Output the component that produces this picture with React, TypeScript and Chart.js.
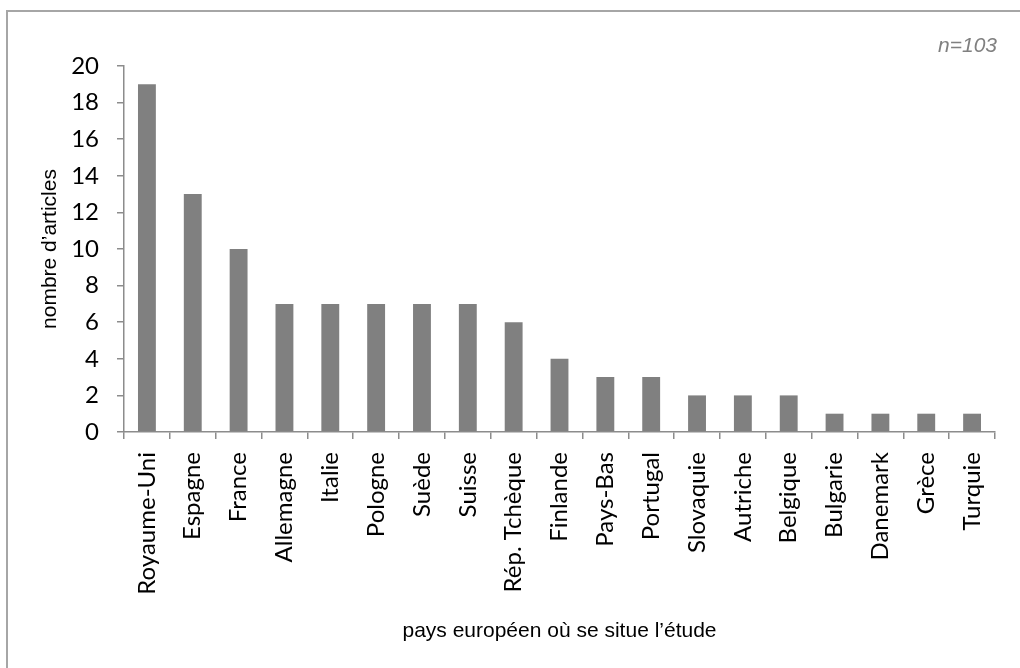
import React, { useEffect, useRef } from "react";
import { Chart, registerables } from "chart.js";

Chart.register(...registerables);

const categories = [
  "Royaume-Uni", "Espagne", "France", "Allemagne", "Italie", "Pologne", "Suède", "Suisse",
  "Rép. Tchèque", "Finlande", "Pays-Bas", "Portugal", "Slovaquie", "Autriche", "Belgique",
  "Bulgarie", "Danemark", "Grèce", "Turquie",
];

const articleCounts = [19, 13, 10, 7, 7, 7, 7, 7, 6, 4, 3, 3, 2, 2, 2, 1, 1, 1, 1];

const yTitle = "nombre d’articles";
const xTitle = "pays européen où se situe l’étude";
const noteText = "n=103";

export default function App() {
  const canvasRef = useRef<HTMLCanvasElement | null>(null);

  useEffect(() => {
    const canvas = canvasRef.current;
    if (!canvas) return;
    const notePlugin = {
      id: "note",
      afterDraw(chart: any) {
        const ctx = chart.ctx;
        ctx.save();
        ctx.font = "italic 21px 'Liberation Sans', Arial, sans-serif";
        ctx.fillStyle = "#808080";
        ctx.textAlign = "right";
        ctx.textBaseline = "alphabetic";
        ctx.fillText(noteText, 997, 52);
        ctx.restore();
      },
    };
    const axisColor = "#8c8c8c";
    const chart = new Chart(canvas, {
      type: "bar",
      data: {
        labels: categories,
        datasets: [
          {
            data: articleCounts,
            backgroundColor: "#808080",
            borderWidth: 0,
            barPercentage: 0.39,
            categoryPercentage: 1,
          },
        ],
      },
      options: {
        animation: false,
        responsive: false,
        maintainAspectRatio: false,
        layout: { padding: { left: 0, top: 66, right: 25, bottom: 0 } },
        plugins: { legend: { display: false }, tooltip: { enabled: false } },
        scales: {
          x: {
            afterFit(scale: any) {
              scale.height = 236;
            },
            grid: {
              display: true,
              drawOnChartArea: false,
              drawTicks: true,
              tickLength: 7,
              color: axisColor,
              lineWidth: 1.5,
              offset: true,
            },
            border: { display: true, color: axisColor, width: 1.5 },
            ticks: {
              autoSkip: false,
              maxRotation: 90,
              minRotation: 90,
              padding: 13,
              color: "#000",
              font: { family: "Lato, 'Noto Sans', sans-serif", size: 24 },
            },
            title: {
              display: true,
              text: xTitle,
              color: "#000",
              padding: { top: 0, bottom: 24 },
              font: { family: "'Liberation Sans', Arial, sans-serif", size: 21 },
            },
          },
          y: {
            min: 0,
            max: 20,
            afterFit(scale: any) {
              scale.width = 124;
            },
            grid: {
              display: true,
              drawOnChartArea: false,
              drawTicks: true,
              tickLength: 7,
              color: axisColor,
              lineWidth: 1.5,
            },
            border: { display: true, color: axisColor, width: 1.5 },
            ticks: {
              stepSize: 2,
              padding: 18,
              color: "#000",
              font: { family: "Lato, 'Noto Sans', sans-serif", size: 24 },
            },
            title: {
              display: true,
              text: yTitle,
              color: "#000",
              padding: { top: 38, bottom: 0 },
              font: { family: "'Liberation Sans', Arial, sans-serif", size: 21 },
            },
          },
        },
      },
      plugins: [notePlugin],
    });
    return () => chart.destroy();
  }, []);

  return (
    <div
      style={{
        position: "fixed",
        left: 0,
        top: 0,
        width: 1020,
        height: 668,
        overflow: "hidden",
        background: "#fff",
      }}
    >
      <div
        style={{
          position: "absolute",
          left: 6,
          top: 10,
          width: 1100,
          height: 800,
          borderTop: "2px solid #a6a6a6",
          borderLeft: "2px solid #a6a6a6",
        }}
      />
      <canvas
        ref={canvasRef}
        width={1020}
        height={668}
        style={{ position: "absolute", left: 0, top: 0, width: 1020, height: 668 }}
      />
    </div>
  );
}
